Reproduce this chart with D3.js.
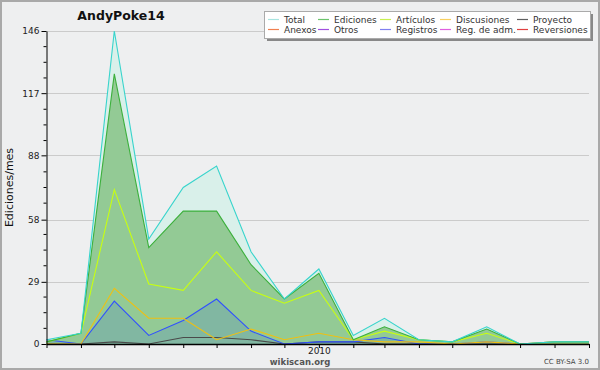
<!DOCTYPE html>
<html>
<head>
<meta charset="utf-8">
<script src="https://cdn.jsdelivr.net/npm/d3@7"></script>
<style>
  body { margin: 0; background: #fff; }
  text { font-family: "DejaVu Sans", sans-serif; }
</style>
</head>
<body>
<div id="chart"></div>
<script>
/**
 * DATA
 */
const months = ["2009-05","2009-06","2009-07","2009-08","2009-09","2009-10","2009-11","2009-12",
  "2010-01","2010-02","2010-03","2010-04","2010-05","2010-06","2010-07","2010-08","2010-09"];
const total       = [2, 5, 146, 49, 73, 83, 43, 21, 35, 4, 12, 2, 1, 8, 0, 1, 1];
const ediciones   = [1, 5, 126, 45, 62, 62, 37, 21, 33, 2, 8, 2, 1, 7, 0, 1, 1];
const articulos   = [1, 5, 72, 28, 25, 43, 25, 19, 25, 2, 6, 2, 1, 5, 0, 0, 0];
const discusiones = [0, 0, 26, 12, 12, 2, 7, 2, 5, 2, 1, 1, 0, 1, 0, 1, 1];
const registros   = [2, 0, 20, 4, 11, 21, 6, 0, 1, 1, 3, 0, 0, 1, 0, 0, 0];
const proyecto    = [0, 0, 1, 0, 3, 3, 2, 0, 1, 1, 0, 0, 0, 0, 0, 0, 0];
const yTicks = [0, 29, 58, 88, 117, 146];
const legendNames = ["Total", "Ediciones", "Artículos", "Discusiones", "Proyecto",
  "Anexos", "Otros", "Registros", "Reg. de adm.", "Reversiones"];
const legendColors = ["#a8e4e0", "#6cc46c", "#c8f050", "#f8d060", "#606060",
  "#f08050", "#a050e0", "#8080f0", "#e060e0", "#e04040"];

/**
 * CONSTANTS
 */
const width = 600, height = 370;
const plot = { left: 46.5, right: 589, top: 31, bottom: 344 };

const parse = d3.timeParse("%Y-%m");
const dates = months.map(parse);

const svg = d3.select("#chart").append("svg")
  .attr("width", width).attr("height", height);

// background and frame
svg.append("rect")
  .attr("x", 1).attr("y", 1).attr("width", width - 2).attr("height", height - 2)
  .attr("fill", "#eeeff0").attr("stroke", "#a9a9a9").attr("stroke-width", 2);

const x = d3.scaleTime().domain(d3.extent(dates)).range([plot.left, plot.right]);
const y = d3.scaleLinear().domain([0, 146]).range([plot.bottom, plot.top]);

// grid lines
svg.append("g").selectAll("line")
  .data(yTicks.filter(d => d > 0))
  .join("line")
  .attr("x1", plot.left).attr("x2", plot.right)
  .attr("y1", d => Math.round(y(d)) + 0.5).attr("y2", d => Math.round(y(d)) + 0.5)
  .attr("stroke", "#cbcbcb");

const series = (vals) => vals.map((v, i) => ({ date: dates[i], v }));
const area = d3.area().x(d => x(d.date)).y0(y(0)).y1(d => y(d.v));
const line = d3.line().x(d => x(d.date)).y(d => y(d.v));

// filled areas
svg.append("path").datum(series(total)).attr("d", area).attr("fill", "#d9f0ea");
svg.append("path").datum(series(ediciones)).attr("d", area).attr("fill", "#93ca95");
svg.append("path").datum(series(registros)).attr("d", area).attr("fill", "rgba(40,90,230,0.16)");

// lines
const lines = [
  [proyecto, "#4a4a4a"],
  [registros, "#3050ff"],
  [discusiones, "#f0c010"],
  [articulos, "#c8ff10"],
  [ediciones, "#3cb03c"],
  [total, "#38d4cc"]
];
lines.forEach(([vals, color]) => {
  svg.append("path").datum(series(vals)).attr("d", line)
    .attr("fill", "none").attr("stroke", color).attr("stroke-width", 1.1);
});

// y axis
const yAxis = svg.append("g").attr("transform", `translate(${plot.left},0)`);
yAxis.call(d3.axisLeft(y).tickValues(yTicks).tickSize(5).tickPadding(2).tickSizeOuter(0));
const minor = d3.range(0, 146, 29.2 / 4).filter((d, i) => i % 4 !== 0);
yAxis.selectAll(".minor").data(minor).join("line").attr("class", "minor")
  .attr("x1", -3).attr("x2", 0).attr("y1", d => y(d)).attr("y2", d => y(d))
  .attr("stroke", "#000");
yAxis.select(".domain").attr("stroke", "#000");
yAxis.selectAll(".tick text")
  .attr("font-family", "'DejaVu Sans Condensed', 'DejaVu Sans', sans-serif")
  .attr("font-size", 9).attr("fill", "#222");

// x axis
const xAxis = svg.append("g").attr("transform", `translate(0,${plot.bottom})`);
xAxis.call(d3.axisBottom(x).tickValues(dates).tickSize(4).tickPadding(1).tickSizeOuter(0)
  .tickFormat(d => d.getMonth() === 0 ? d3.timeFormat("%Y")(d) : ""));
xAxis.select(".domain").attr("stroke", "#000").attr("stroke-width", 1.5);
xAxis.selectAll(".tick text")
  .attr("font-family", "'DejaVu Sans Condensed', 'DejaVu Sans', sans-serif")
  .attr("font-size", 9).attr("fill", "#222").attr("dy", "0.6em");

// title
svg.append("text").attr("x", 121).attr("y", 20).attr("text-anchor", "middle")
  .attr("font-family", "'DejaVu Sans Condensed', 'DejaVu Sans', sans-serif")
  .attr("font-weight", "bold").attr("font-size", 12.5).attr("fill", "#111")
  .text("AndyPoke14");

// y label
svg.append("text")
  .attr("transform", `translate(13,${(plot.top + plot.bottom) / 2}) rotate(-90)`)
  .attr("text-anchor", "middle")
  .attr("font-family", "'DejaVu Sans Mono', monospace")
  .attr("font-size", 11).attr("fill", "#111").text("Ediciones/mes");

// footer
svg.append("text").attr("x", 300).attr("y", 365).attr("text-anchor", "middle")
  .attr("font-family", "'DejaVu Sans Condensed', 'DejaVu Sans', sans-serif")
  .attr("font-size", 8.5).attr("font-weight", "bold").attr("fill", "#555")
  .text("wikiscan.org");
svg.append("text").attr("x", 589).attr("y", 364).attr("text-anchor", "end")
  .attr("font-size", 7).attr("fill", "#444").text("CC BY-SA 3.0");

// legend
const lg = svg.append("g");
lg.append("rect").attr("x", 267).attr("y", 14).attr("width", 326).attr("height", 27).attr("fill", "#888");
lg.append("rect").attr("x", 264.5).attr("y", 11.5).attr("width", 326).attr("height", 27)
  .attr("fill", "#fff").attr("stroke", "#aaa");
const colX = [268, 318, 380, 440, 517];
legendNames.forEach((name, i) => {
  const cx = colX[i % 5], ry = i < 5 ? 19.5 : 29.5;
  lg.append("line").attr("x1", cx).attr("x2", cx + 11).attr("y1", ry).attr("y2", ry)
    .attr("stroke", legendColors[i]).attr("stroke-width", 1.2);
  lg.append("text").attr("x", cx + 16).attr("y", ry + 3.5)
    .attr("font-size", 9).attr("fill", "#333").text(name);
});
</script>
</body>
</html>
